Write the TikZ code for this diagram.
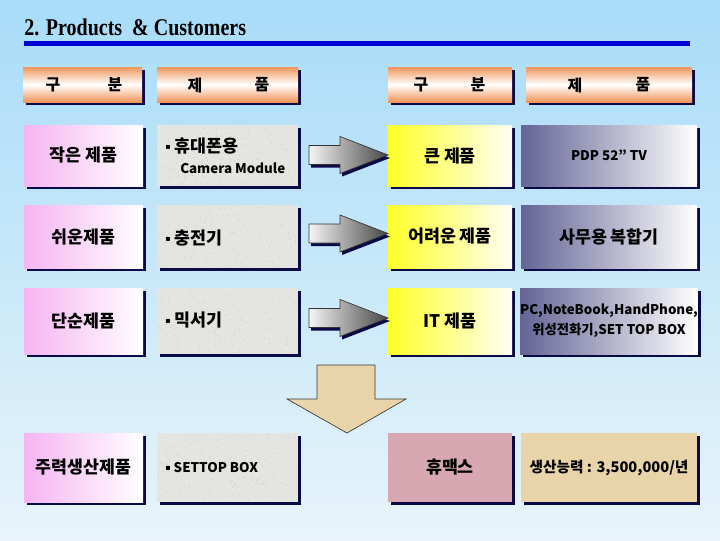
\documentclass[tikz,border=0pt]{standalone}
\usepackage{fontspec}
\setmainfont{Liberation Serif}
\newfontfamily\kr{Noto Sans CJK KR}
\newfontfamily\dv{DejaVu Sans}
\usetikzlibrary{shadows}
\definecolor{skytop}{RGB}{168,220,248}
\definecolor{skymid}{RGB}{196,232,249}
\definecolor{skybot}{RGB}{232,244,250}
\definecolor{navyc}{RGB}{10,10,70}
\definecolor{bluel}{RGB}{0,0,215}
\definecolor{orangec}{RGB}{240,150,90}
\definecolor{pinkc}{RGB}{245,180,242}
\definecolor{grayc}{RGB}{228,228,224}
\definecolor{yellowc}{RGB}{255,255,40}
\definecolor{slatec}{RGB}{100,100,150}
\definecolor{tanc}{RGB}{232,212,168}
\definecolor{dpinkc}{RGB}{215,168,178}
\newcommand{\bul}{\raisebox{2pt}{\dv\fontsize{6}{7}\selectfont ▪}\ }
\newcommand{\lat}{\fontsize{10}{13}\selectfont}
\tikzset{
  sbox/.style={inner sep=0pt, align=center, font=\kr\bfseries\fontsize{13}{16}\selectfont,
     general shadow={fill=navyc, shadow xshift=2pt, shadow yshift=-2pt}},
  hdr/.style={sbox, top color=orangec, bottom color=orangec, middle color=white, minimum height=26.25pt},
  pinkbox/.style={sbox, left color=pinkc, right color=white},
  graybox/.style={sbox, fill=grayc},
  yelbox/.style={sbox, left color=yellowc, right color=white!95!yellow},
  slatebox/.style={sbox, left color=slatec, right color=white},
  txt/.style={inner sep=0pt, font=\kr\bfseries\fontsize{13}{16}\selectfont},
  htxt/.style={inner sep=0pt, font=\kr\bfseries\fontsize{12}{14}\selectfont},
  wA/.style={minimum width=89.25pt}, wB/.style={minimum width=105.75pt},
  wC/.style={minimum width=93pt}, wDh/.style={minimum width=124.5pt},
  wD/.style={minimum width=132pt},
  hA/.style={minimum height=45.75pt}, hB/.style={minimum height=47.25pt},
  hC/.style={minimum height=49.5pt}, hE/.style={minimum height=51.75pt},
  rarr/.style={left color=white!92!gray, right color=gray!55!black, draw=gray!40!black, line width=0.5pt},
}
\begin{document}
\begin{tikzpicture}[x=0.75pt,y=-0.75pt]
\useasboundingbox (0,0) rectangle (720,540);
\shade[top color=skytop, middle color=skymid, bottom color=skybot] (0,0) rectangle (720,540);
% title
\node[anchor=base west, inner sep=0pt, font=\bfseries\fontsize{15}{18}\selectfont] (title) at (24,35) {\scalebox{1}[1.2]{2. Products~ \& Customers}};
\draw[bluel, line width=3.75pt] (24,43.5) coordinate (l1) -- (690,43.5) coordinate (l2);
% header row
\node[hdr, wA] (h1) at (82.5,84.5) {};
\node[hdr, wB] (h2) at (227.5,84.5) {};
\node[hdr, wC] (h3) at (450,84.5) {};
\node[hdr, wDh] (h4) at (609,84.5) {};
\node[htxt] (h1a) at (53,85) {구};
\node[htxt] (h1b) at (115,85) {분};
\node[htxt] (h2a) at (195,85) {제};
\node[htxt] (h2b) at (262,85) {품};
\node[htxt] (h3a) at (421,85) {구};
\node[htxt] (h3b) at (478,85) {분};
\node[htxt] (h4a) at (575,85) {제};
\node[htxt] (h4b) at (643,85) {품};
% row 1
\node[pinkbox, wA, hA] (a1) at (83.5,155.5) {작은 제품};
\node[graybox, wB, hA] (b1) at (227.5,155.5) {};
\node[yelbox, wC, hA] (c1) at (450,155.5) {큰 제품};
\node[slatebox, wD, hA] (d1) at (609,155.5) {\lat PDP 52” TV};
% row 2
\node[pinkbox, wA, hB] (a2) at (83.5,236.5) {쉬운제품};
\node[graybox, wB, hB] (b2) at (227.5,236.5) {};
\node[yelbox, wC, hB] (c2) at (450,236.5) {어려운 제품};
\node[slatebox, wD, hB] (d2) at (609,236.5) {사무용 복합기};
% row 3
\node[pinkbox, wA, hC] (a3) at (83.5,321) {단순제품};
\node[graybox, wB, hC] (b3) at (227.5,321) {};
\node[yelbox, wC, hC] (c3) at (450,321) {IT 제품};
\node[slatebox, wD, hC, font=\kr\bfseries\fontsize{10}{15}\selectfont] (d3) at (609,321) {PC,NoteBook,HandPhone,\\위성전화기,SET TOP BOX};
% row 4
\node[pinkbox, wA, hE] (a4) at (83.5,467.5) {주력생산제품};
\node[graybox, wB, hE] (b4) at (227.5,467.5) {};
\node[sbox, fill=dpinkc, wC, hE] (c4) at (450,467.5) {휴맥스};
\node[sbox, fill=tanc, wD, hE, font=\kr\bfseries\fontsize{11}{14}\selectfont] (d4) at (609,467.5) {생산능력 : 3,500,000/년};
% speckle texture on gray boxes
\pgfmathsetseed{7}
\foreach \bx/\by/\bh in {157/125/61, 157/205/63, 157/288/66, 157/433/69} {
  \foreach \i in {1,...,260} {
    \pgfmathsetmacro{\px}{\bx+1+139*rnd}
    \pgfmathsetmacro{\py}{\by+1+(\bh-2)*rnd}
    \fill[gray!55!white, opacity=0.55] (\px,\py) circle (0.35pt);
  }
}
% gray box texts
\node[txt, anchor=west] (b1t) at (165,146) {\bul 휴대폰용};
\node[txt, anchor=west, font=\kr\bfseries\lat] (b1u) at (180,168) {Camera Module};
\node[txt, anchor=west] (b2t) at (165,238) {\bul 충전기};
\node[txt, anchor=west] (b3t) at (165,320) {\bul 믹서기};
\node[txt, anchor=west, font=\kr\bfseries\lat] (b4t) at (165,468) {\bul SETTOP BOX};
% right arrows
\foreach \cy in {155,233.5,318} {
  \fill[navyc] ([shift={(2,3)}]309,\cy-9.5) -- ++(31,0) -- ++(0,-9) -- ++(48,18.5) -- ++(-48,18.5) -- ++(0,-9) -- ++(-31,0) -- cycle;
  \shade[rarr] (309,\cy-9.5) -- (340,\cy-9.5) -- (340,\cy-18.5) -- (388,\cy) -- (340,\cy+18.5) -- (340,\cy+9.5) -- (309,\cy+9.5) -- cycle;
}
% down arrow
\filldraw[fill=tanc, draw=gray!45!black, line width=0.5pt] (317,365) -- (375,365) -- (375,399) -- (406,399) -- (347,433) -- (287,399) -- (317,399) -- cycle;
\end{tikzpicture}
\end{document}
